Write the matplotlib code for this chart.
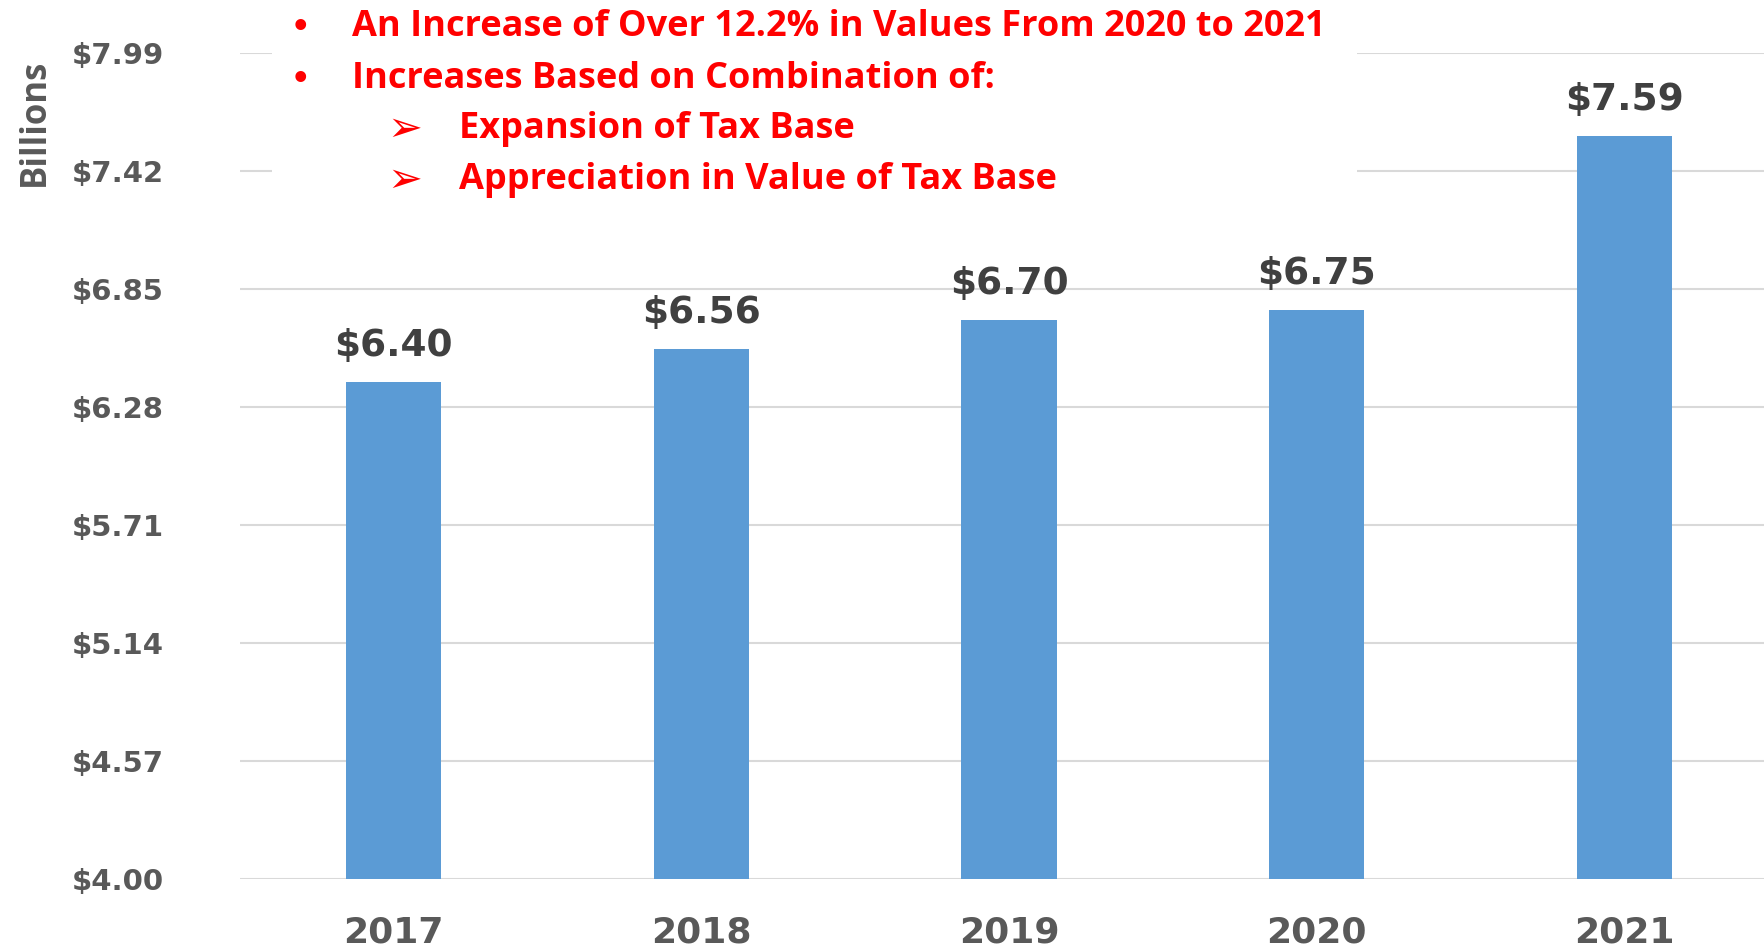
import matplotlib.pyplot as plt
from matplotlib.patches import Rectangle

years = ['2017', '2018', '2019', '2020', '2021']
values = [6.40, 6.56, 6.70, 6.75, 7.59]
value_labels = ['$6.40', '$6.56', '$6.70', '$6.75', '$7.59']
y_ticks = [4.00, 4.57, 5.14, 5.71, 6.28, 6.85, 7.42, 7.99]
y_tick_labels = ['$4.00', '$4.57', '$5.14', '$5.71', '$6.28', '$6.85', '$7.42', '$7.99']

bullets = ['An Increase of Over 12.2% in Values From 2020 to 2021',
           'Increases Based on Combination of:']
sub_bullets = ['Expansion of Tax Base',
               'Appreciation in Value of Tax Base']

W, H = 1765, 952
fig = plt.figure(figsize=(W / 100, H / 100), dpi=100)
ax = fig.add_axes([240 / W, (H - 879) / H, (1778 - 240) / W, (879 - 53) / H])

x = range(len(years))
ax.bar(x, values, width=0.31, color='#5B9BD5', zorder=2)

for xi, v, lab in zip(x, values, value_labels):
    ax.annotate(lab, (xi, v), xytext=(0, 26), textcoords='offset points',
                ha='center', va='center', fontsize=27, fontweight='bold',
                color='#404040')

ax.set_xlim(-0.5, 4.5)
ax.set_ylim(4.00, 7.99)
ax.set_yticks(y_ticks)
ax.set_yticklabels(y_tick_labels)
ax.set_xticks(list(x))
ax.set_xticklabels(years)
ax.tick_params(axis='y', length=0, pad=55, labelsize=21, labelcolor='#595959')
ax.tick_params(axis='x', length=0, pad=26, labelsize=26, labelcolor='#595959')
for t in ax.get_xticklabels() + ax.get_yticklabels():
    t.set_fontweight('bold')

ax.yaxis.grid(True, color='#D9D9D9', linewidth=1.5, zorder=0)
ax.set_axisbelow(True)
for s in ax.spines.values():
    s.set_visible(False)

fig.text(35 / W, 1 - 122 / H, 'Billions', rotation=90, ha='center', va='center',
         fontsize=25, fontweight='bold', color='#595959', family='Open Sans')

# white box behind the red notes
box = Rectangle((272 / W, 1 - 192 / H), (1357 - 272) / W, 192 / H,
                transform=fig.transFigure, facecolor='white', edgecolor='none',
                zorder=5, clip_on=False)
ax.add_patch(box)

red = '#FF0000'
line_y = [27, 79, 129, 180]
for i, txt in enumerate(bullets):
    yy = 1 - line_y[i] / H
    fig.text(300 / W, yy, '\u2022', ha='center', va='center', fontsize=22,
             color=red, fontweight='bold')
    fig.text(352 / W, yy, txt, ha='left', va='center', fontsize=26,
             color=red, fontweight='bold', family='Open Sans')
for i, txt in enumerate(sub_bullets):
    yy = 1 - line_y[i + 2] / H
    fig.text(405 / W, yy, '\u27A2', ha='center', va='center', fontsize=30,
             color=red, family='DejaVu Sans')
    fig.text(459 / W, yy, txt, ha='left', va='center', fontsize=26,
             color=red, fontweight='bold', family='Open Sans')

fig.savefig('out.png', dpi=100)
